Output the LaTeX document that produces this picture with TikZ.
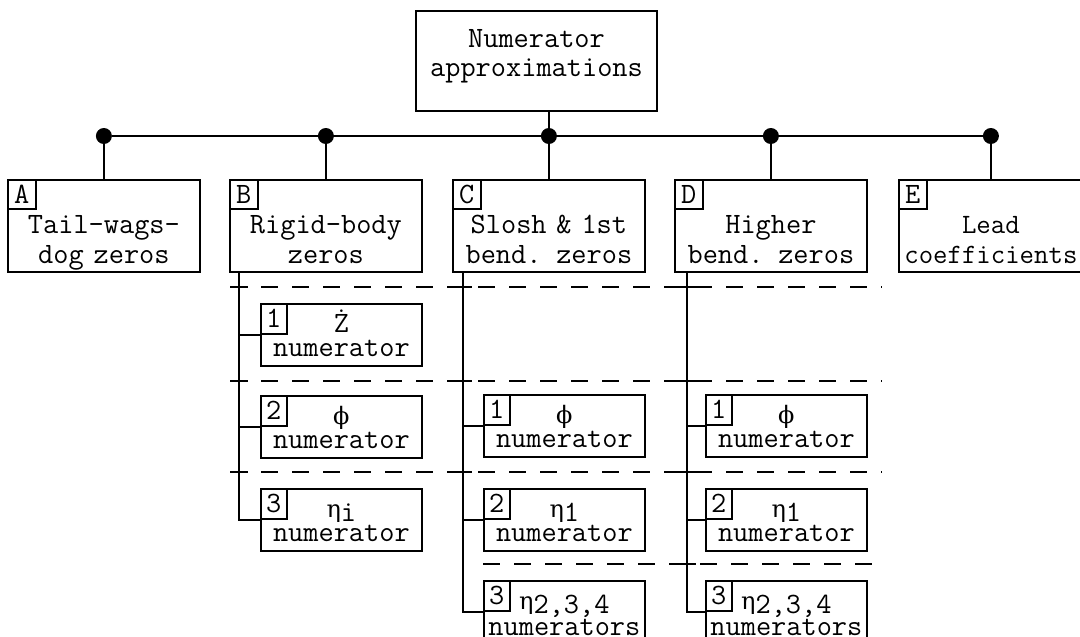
\documentclass[tikz,border=0pt]{standalone}
\usepackage{fontspec}
\newfontfamily\grk{DejaVu Serif}
\newcommand{\lowidx}[1]{\raisebox{-4pt}{#1}}
\newcommand{\grl}[1]{{\grk\fontsize{24}{24}\selectfont #1}}

\begin{document}
\begin{tikzpicture}[
        x=1pt, y=-1pt,
        every node/.style = {
            inner sep=0pt,
            font=\ttfamily\fontsize{29.5}{30}\selectfont
        },
        topbox/.style = {draw, line width=1.8pt, anchor=north, align=center, text width=241pt, text height=37pt, text depth=63pt, font=\ttfamily\fontsize{29.5}{29}\selectfont},
        mainbox/.style = {draw, line width=1.8pt, anchor=north west, align=center, text width=192pt, text height=54pt, text depth=38pt},
        subbox/.style = {draw, line width=1.8pt, anchor=north west, align=center, text width=161pt, text height=29pt, text depth=33pt, font=\ttfamily\fontsize{29.5}{24}\selectfont},
        tag/.style = {draw, line width=1.6pt, anchor=north west, minimum width=28pt, minimum height=29pt},
        numtag/.style = {tag, minimum width=26pt, minimum height=30pt},
        joint/.style = {circle, fill, minimum size=16pt},
        link/.style = {line width=1.8pt},
        sepline/.style = {line width=1.6pt, dash pattern=on 17pt off 14pt}
    ]
    \useasboundingbox (0,0) rectangle (1080,637);

    % Root
    \node[topbox] (root) at (536.5,10) {Numerator\\approximations};

    % First level
    \node[mainbox] (A) at (7,179) {Tail-wags-\\dog zeros};
    \node[mainbox] (B) at (229,179) {Rigid-body\\zeros};
    \node[mainbox] (C) at (452,179) {Slosh \& 1st\\bend. zeros};
    \node[mainbox] (D) at (674,179) {Higher\\bend. zeros};
    \node[mainbox, text width=184pt, font=\ttfamily\fontsize{28}{30}\selectfont] (E) at (898,179) {Lead\\coefficients};

    \foreach \b in {A,B,C,D,E}
        \node[tag] (tag\b) at (\b.north west) {\b};

    % Bus with joints
    \foreach \b in {A,B,C,D,E}
        \node[joint] (j\b) at (\b.north |- 0,136) {};
    \draw[link] (jA) -- (jE);
    \draw[link] (jC) -- (jC |- root.south);
    \foreach \b in {A,B,C,D,E}
        \draw[link] (j\b) -- (\b);

    % Second level
    \node[subbox] (B1) at (260,303) {Ż\\numerator};
    \node[subbox] (B2) at (260,395) {\grl{ϕ}\\numerator};
    \node[subbox] (B3) at (260,488) {\grl{η}\lowidx{i}\\numerator};

    \node[subbox] (C1) at (483,394) {\grl{ϕ}\\numerator};
    \node[subbox] (C2) at (483,488) {\grl{η}\lowidx{1}\\numerator};
    \node[subbox] (C3) at (483,580) {\grl{η}\lowidx{2,3,4}\\numerators};

    \node[subbox] (D1) at (705,394) {\grl{ϕ}\\numerator};
    \node[subbox] (D2) at (705,488) {\grl{η}\lowidx{1}\\numerator};
    \node[subbox] (D3) at (705,580) {\grl{η}\lowidx{2,3,4}\\numerators};

    \foreach \s in {B,C,D}
        \foreach \n in {1,2,3}
            \node[numtag] (t\s\n) at (\s\n.north west) {\n};

    % Spines
    \coordinate (sB) at ([xshift=10pt]B.south west);
    \coordinate (sC) at ([xshift=11pt]C.south west);
    \coordinate (sD) at ([xshift=13pt]D.south west);
    \foreach \s in {B,C,D} {
        \draw[link] (s\s) |- (\s3.west);
        \draw[link] (\s1.west) -- (\s1.west -| s\s);
        \draw[link] (\s2.west) -- (\s2.west -| s\s);
    }

    % Dashed separators
    \foreach \y in {287,381,472} {
        \draw[sepline] (230,\y) -- (882,\y);
        \foreach \s in {sB,sC,sD}
            \draw[link] (\s |- 0,\y) ++(-9,0) -- ++(18,0);
    }
    \draw[sepline] (483,564) -- (882,564);
    \draw[link] (sD |- 0,564) ++(-9,0) -- ++(18,0);

\end{tikzpicture}
\end{document}
